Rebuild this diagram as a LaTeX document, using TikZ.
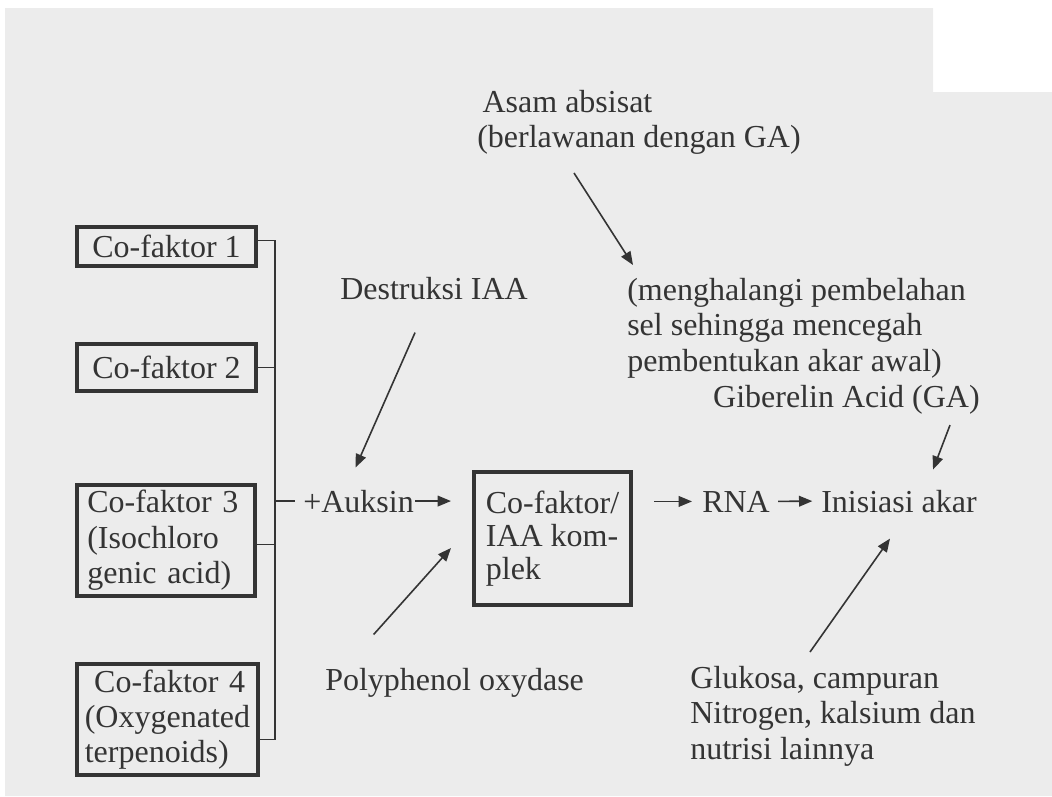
\documentclass[tikz,border=0pt]{standalone}
\usepackage{fontspec}
\setmainfont{Liberation Serif}
\usetikzlibrary{calc, arrows.meta}
\definecolor{ink}{HTML}{343434}
\definecolor{paper}{HTML}{ECECEC}

\begin{document}
\begin{tikzpicture}[x=0.75pt, y=-0.75pt,
	every node/.style={font=\fontsize{24}{26.5}\selectfont, text=ink},
	lbl/.style={inner sep=0pt, align=left},
	cofbox/.style={draw=ink, line width=3pt, align=left, inner ysep=0pt, minimum width=134pt},
	arr/.style={draw=ink, line width=1.2pt, -{Triangle[length=10pt,width=8pt]}},
	brace/.style={draw=ink, line width=1.1pt}]
	
	\useasboundingbox (0,0) rectangle (1052,796);
	\fill[paper] (5,8) -- (933,8) -- (933,92) -- (1052,92) -- (1052,796) -- (5,796) -- cycle;
	
	% co-faktor boxes
	\node[cofbox, minimum height=29.25pt] (cf1) at (166.5,246.5) {Co-faktor 1};
	\node[cofbox, minimum height=35.25pt] (cf2) at (166.5,367.5) {Co-faktor 2};
	\node[cofbox, minimum height=83.25pt, text width=118pt, inner xsep=7.75pt] (cf3) at (166,540.5)
		{Co-faktor~3\\(Isochloro\\genic~acid)};
	\node[cofbox, minimum height=83.25pt, text width=124pt, inner xsep=6pt] (cf4) at (167.5,719.5)
		{\hspace*{7pt}Co-faktor~4\\(Oxygenated\\terpenoids)};
	\node[cofbox, minimum width=117.75pt, minimum height=99.75pt,
		font=\fontsize{24}{24.5}\selectfont] (cplx) at (552.5,538.5) {Co-faktor/\\IAA kom-\\plek};
	
	% labels
	\node[lbl, anchor=base west] (auksin) at (303,512) {+Auksin};
	\node[lbl, anchor=base west] (rna) at (702,512) {RNA};
	\node[lbl, anchor=base west] (inis) at (821,512) {Inisiasi akar};
	\node[lbl, anchor=base west] (destr) at (340,299) {Destruksi IAA};
	\node[lbl, anchor=base west] (poly) at (325,690) {Polyphenol oxydase};
	\node[lbl, anchor=north west] (asam) at (477,90) {\hspace*{4pt}Asam absisat\\(berlawanan dengan GA)};
	\node[lbl, anchor=north west] (mengh) at (627,278)
		{(menghalangi pembelahan\\sel sehingga mencegah\\pembentukan akar awal)};
	\node[lbl, anchor=base east] (ga) at (980,407) {Giberelin Acid (GA)};
	\node[lbl, anchor=north west] (gluk) at (690,666)
		{Glukosa, campuran\\Nitrogen, kalsium dan\\nutrisi lainnya};
	
	% bracket joining the co-faktors
	\coordinate (bar) at (275,0);
	\coordinate (s1) at ($(cf1.east)+(0,-6)$);
	\coordinate (s3) at ($(cf3.east)+(0,4)$);
	\coordinate (s4) at ($(cf4.east)+(0,20)$);
	\draw[brace] (s1) -- (s1 -| bar) -- (s4 -| bar) -- (s4);
	\draw[brace] (cf2.east) -- (cf2.east -| bar);
	\draw[brace] (s3) -- (s3 -| bar);
	\draw[brace] (auksin.west -| bar) -- ($(auksin.west)+(-8,0)$);
	
	% arrows
	\draw[arr] ($(auksin.east)+(1,0)$) -- ($(auksin.east -| cplx.west)+(-21,0)$);
	\draw[arr] ($(rna.west -| cplx.east)+(21,0)$) -- ($(rna.west)+(-10,0)$);
	\draw[arr, shorten <=6pt, shorten >=6.5pt] (rna.east) -- (inis.west);
	\draw[arr] ($(destr.south)+(-19,33)$) -- ($(auksin.north)+(-3,-22)$);
	\draw[arr] ($(poly.north)+(-81,-33)$) -- ($(cplx.south west)+(-21,-59)$);
	\draw[arr] ($(asam.south)+(-65,18)$) -- ($(mengh.north west)+(6,-13)$);
	\draw[arr] ($(ga.south east)+(-30,11)$) -- ($(inis.north east)+(-44,-20)$);
	\draw[arr] ($(gluk.north west)+(120,-14)$) -- ($(inis.south)+(-9,26)$);
\end{tikzpicture}
\end{document}
